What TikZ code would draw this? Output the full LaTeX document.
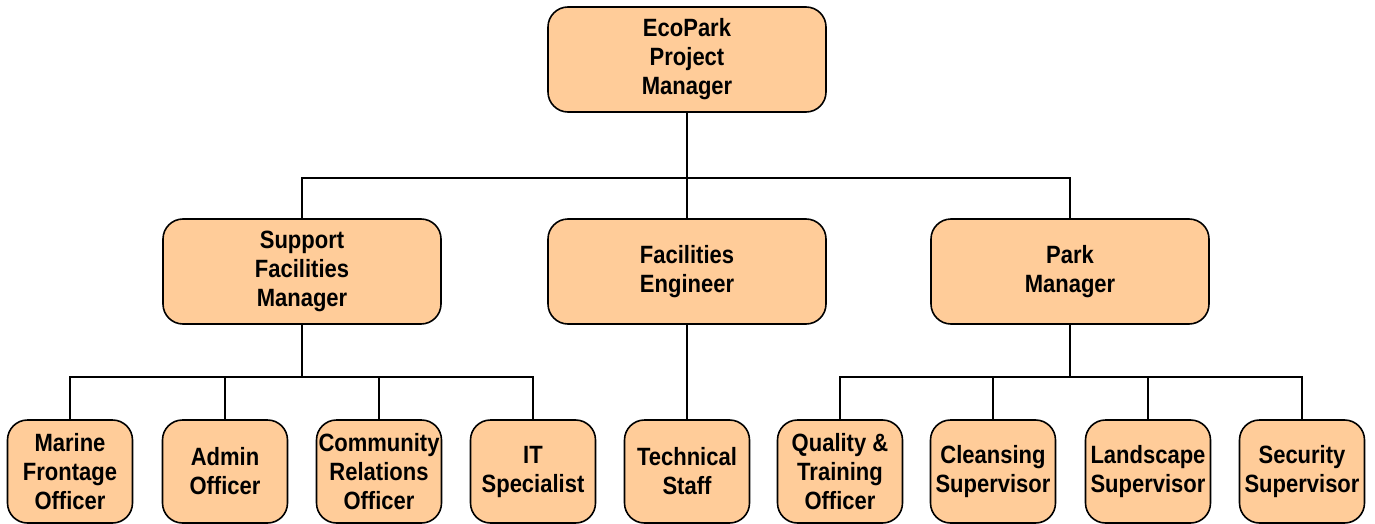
\documentclass[tikz,border=0pt]{standalone}
\usepackage{fontspec}
\setmainfont[FakeStretch=0.88]{Liberation Sans}
\usetikzlibrary{positioning}
\definecolor{boxfill}{HTML}{FFCC99}
\tikzset{
  role/.style={draw,line width=1.6pt,fill=boxfill,rounded corners=20pt,
    align=center,inner sep=0pt,font=\bfseries\fontsize{25}{29}\selectfont},
  bigrole/.style={role,minimum width=278pt,minimum height=105pt},
  smallrole/.style={role,minimum width=125pt,minimum height=103pt},
  link/.style={line width=1.4pt}
}

\begin{document}
\begin{tikzpicture}[x=1pt,y=-1pt]
\useasboundingbox (0,0) rectangle (1375,524);
% top level
\node[bigrole] (pm) at (687,59.5) {EcoPark\\Project\\Manager};
% managers
\node[bigrole] (sfm) at (302,271.5) {Support\\Facilities\\Manager};
\node[bigrole] (fe) at (687,271.5) {Facilities\\Engineer};
\node[bigrole] (pkm) at (1070,271.5) {Park\\Manager};
% staff
\node[smallrole] (mfo) at (70,471.5) {Marine\\Frontage\\Officer};
\node[smallrole] (ao) at (225,471.5) {Admin\\Officer};
\node[smallrole] (cro) at (379,471.5) {Community\\Relations\\Officer};
\node[smallrole] (its) at (533,471.5) {IT\\Specialist};
\node[smallrole] (ts) at (687,471.5) {Technical\\Staff};
\node[smallrole] (qto) at (840,471.5) {Quality \&\\Training\\Officer};
\node[smallrole] (cs) at (993,471.5) {Cleansing\\Supervisor};
\node[smallrole] (ls) at (1148,471.5) {Landscape\\Supervisor};
\node[smallrole] (ss) at (1302,471.5) {Security\\Supervisor};

\coordinate (busA) at (687,178);
\coordinate (busB) at (302,377);
\coordinate (busC) at (1070,377);

\draw[link] (pm.south) -- (fe.north);
\draw[link] (sfm.north) |- (busA) -| (pkm.north);
\draw[link] (fe.south) -- (ts.north);
\draw[link] (sfm.south) -- (busB);
\draw[link] (mfo.north) |- (busB) -| (its.north);
\draw[link] (ao.north) -- (ao.north |- busB);
\draw[link] (cro.north) -- (cro.north |- busB);
\draw[link] (pkm.south) -- (busC);
\draw[link] (qto.north) |- (busC) -| (ss.north);
\draw[link] (cs.north) -- (cs.north |- busC);
\draw[link] (ls.north) -- (ls.north |- busC);

\end{tikzpicture}
\end{document}
